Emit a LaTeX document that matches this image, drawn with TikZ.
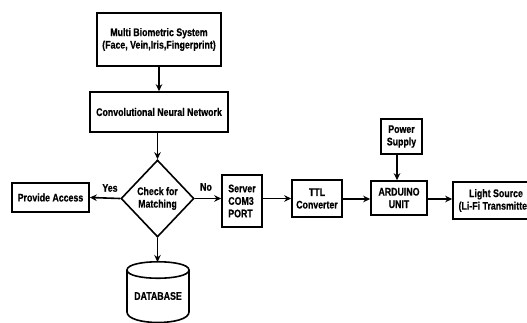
\documentclass[tikz,border=0pt]{standalone}
\usepackage{fontspec}
\setmainfont{Liberation Sans}[FakeStretch=0.8,FakeBold=0.6]
\usetikzlibrary{shapes.geometric,arrows.meta}
\begin{document}
\begin{tikzpicture}[x=1pt,y=-1pt,
  font=\fontsize{11}{12.5}\selectfont\bfseries,
  box/.style={draw,line width=1.6pt,inner sep=0pt,align=center,fill=white},
  arr/.style={line width=1.6pt,-{Stealth[length=7pt,width=6.5pt]}},
  lbl/.style={inner sep=0pt}]
\useasboundingbox (0,0) rectangle (527,322);
\clip (0,0) rectangle (527,322);
\node[box,minimum width=124pt,minimum height=53pt] (mbs) at (159,39.5) {Multi Biometric System\\(Face, Vein,Iris,Fingerprint)};
\node[box,minimum width=138pt,minimum height=40pt] (cnn) at (159,112) {Convolutional Neural Network};
\node[box,shape=diamond,minimum width=73pt,minimum height=77pt] (dia) at (157.5,198.5) {Check for\\Matching};
\node[box,minimum width=77pt,minimum height=29pt] (acc) at (50.5,197.5) {Provide Access};
\node[box,minimum width=40pt,minimum height=52pt,align=left] (srv) at (242,201) {Server\\COM3\\PORT};
\node[box,minimum width=50pt,minimum height=37pt] (ttl) at (317,198.5) {TTL\\Converter};
\node[box,minimum width=56pt,minimum height=34pt] (ard) at (399,198) {ARDUINO\\UNIT};
\node[box,minimum width=41pt,minimum height=35pt] (pwr) at (401.5,136.5) {Power\\Supply};
\node[box,minimum width=86pt,minimum height=37pt] (lit) at (496,200.5) {Light Source\\(Li-Fi Transmitter)};
% database cylinder
\draw[line width=1.6pt] (127,270) .. controls (127,259) and (189,259) .. (189,270)
  -- (189,312) .. controls (189,326) and (127,326) .. (127,312) -- cycle;
\draw[line width=1.6pt] (127,270) .. controls (127,281) and (189,281) .. (189,270);
\coordinate (dbtop) at (157.5,262);
\node[lbl] (db) at (158,296) {DATABASE};
% connectors
\draw[arr] (mbs.south -| cnn.north) -- (cnn.north);
\draw[arr] (cnn.south -| dia.north) -- (dia.north);
\draw[arr] (dia.west) -- (acc.east);
\draw[arr] (dia.east) -- (dia.east -| srv.west);
\draw[arr] (dia.south) -- (dbtop);
\draw[arr] (srv.east |- ttl.west) -- (ttl.west);
\draw[arr] (ttl.east |- 0,199) -- (ard.west |- 0,199);
\draw[arr] (ard.east |- 0,199) -- (lit.west |- 0,199);
\draw[arr] (pwr.south -| 397,0) -- (ard.north -| 397,0);
\node[lbl] (yes) at (110,188) {Yes};
\node[lbl] (no) at (206,187) {No};
\end{tikzpicture}
\end{document}
